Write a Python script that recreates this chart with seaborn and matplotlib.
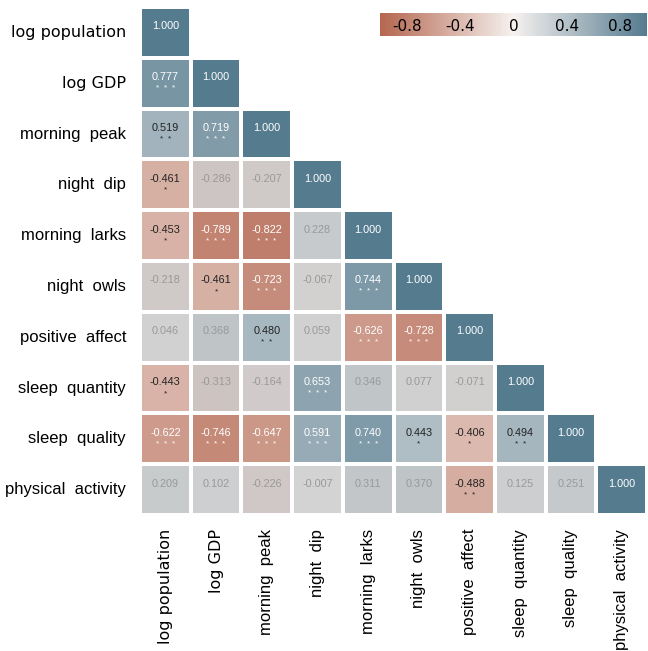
import numpy as np
import pandas as pd
import matplotlib.pyplot as plt
from matplotlib.colors import LinearSegmentedColormap
import seaborn as sns

# variables
labels = ['log population', 'log GDP', 'morning  peak', 'night  dip', 'morning  larks',
          'night  owls', 'positive  affect', 'sleep  quantity', 'sleep  quality',
          'physical  activity']

# lower triangle of the correlation matrix (row by row)
corr_rows = [
    [1.000],
    [0.777, 1.000],
    [0.519, 0.719, 1.000],
    [-0.461, -0.286, -0.207, 1.000],
    [-0.453, -0.789, -0.822, 0.228, 1.000],
    [-0.218, -0.461, -0.723, -0.067, 0.744, 1.000],
    [0.046, 0.368, 0.480, 0.059, -0.626, -0.728, 1.000],
    [-0.443, -0.313, -0.164, 0.653, 0.346, 0.077, -0.071, 1.000],
    [-0.622, -0.746, -0.647, 0.591, 0.740, 0.443, -0.406, 0.494, 1.000],
    [0.209, 0.102, -0.226, -0.007, 0.311, 0.370, -0.488, 0.125, 0.251, 1.000],
]

# number of significance stars per cell
star_rows = [
    [0],
    [3, 0],
    [2, 3, 0],
    [1, 0, 0, 0],
    [1, 3, 3, 0, 0],
    [0, 1, 3, 0, 3, 0],
    [0, 0, 2, 0, 3, 3, 0],
    [1, 0, 0, 3, 0, 0, 0, 0],
    [3, 3, 3, 3, 3, 1, 1, 2, 0],
    [0, 0, 0, 0, 0, 0, 2, 0, 0, 0],
]

n = len(labels)
corr = np.full((n, n), np.nan)
stars = np.zeros((n, n), dtype=int)
for i in range(n):
    corr[i, :i + 1] = corr_rows[i]
    stars[i, :i + 1] = star_rows[i]
df = pd.DataFrame(corr, index=labels, columns=labels)

upper = np.triu(np.ones((n, n), dtype=bool), k=1)
diag = np.eye(n, dtype=bool)
signif = (stars > 0) | diag
mask_full = upper | ~signif          # drawn in full colour
mask_grey = upper | signif           # non-significant -> greyed

cmap = LinearSegmentedColormap.from_list('rb', ['#b4664f', '#f6f1ef', '#557b8f'])
grey = np.array([0.76, 0.765, 0.77])
xs = np.linspace(0, 1, 256)
ns_cols = [0.35 * np.array(cmap(x)[:3]) + 0.65 * grey for x in xs]
cmap_ns = LinearSegmentedColormap.from_list('rb_ns', ns_cols)

fig = plt.figure(figsize=(6.48, 6.51), dpi=100)
ax = fig.add_axes([140 / 648, 1 - 515 / 651, 507 / 648, 508 / 651])
cax = fig.add_axes([380 / 648, 1 - 36 / 651, 267 / 648, 23 / 651])

sns.heatmap(df, mask=mask_full, cmap=cmap, vmin=-1, vmax=1, linewidths=1.6,
            linecolor='white', ax=ax, cbar_ax=cax,
            cbar_kws={'orientation': 'horizontal'})
sns.heatmap(df, mask=mask_grey, cmap=cmap_ns, vmin=-1, vmax=1, linewidths=1.6,
            linecolor='white', ax=ax, cbar=False)

# annotations
for i in range(n):
    for j in range(i + 1):
        r = corr[i, j]
        if i == j:
            col = 'white'
        elif stars[i, j] == 0:
            col = '#999999'
        elif abs(r) > 0.55:
            col = 'white'
        else:
            col = '#222222'
        ax.text(j + 0.5, i + 0.38, f'{r:.3f}', ha='center', va='center',
                color=col, fontsize=7.8, family='Liberation Sans')
        if stars[i, j] > 0:
            ax.text(j + 0.5, i + 0.61, '  '.join(['*'] * stars[i, j]), ha='center',
                    va='center', color=col, fontsize=6, family='Liberation Sans')

ax.set_xticklabels(labels, rotation=90)
ax.set_yticklabels(labels, rotation=0)
for t in ax.get_xticklabels() + ax.get_yticklabels():
    if t.get_text().startswith('log'):
        t.set_fontfamily('DejaVu Sans')
        t.set_fontsize(11.5)
    else:
        t.set_fontfamily('Liberation Sans')
        t.set_fontsize(12)
ax.tick_params(length=0, pad=10)

cbar = ax.collections[0].colorbar
cbar.set_ticks([-0.8, -0.4, 0, 0.4, 0.8])
cbar.set_ticklabels(['-0.8', '-0.4', '0', '0.4', '0.8'])
cbar.outline.set_visible(False)
cax.tick_params(length=0, labelsize=11, pad=-12)

plt.savefig('out.png', dpi=100)
